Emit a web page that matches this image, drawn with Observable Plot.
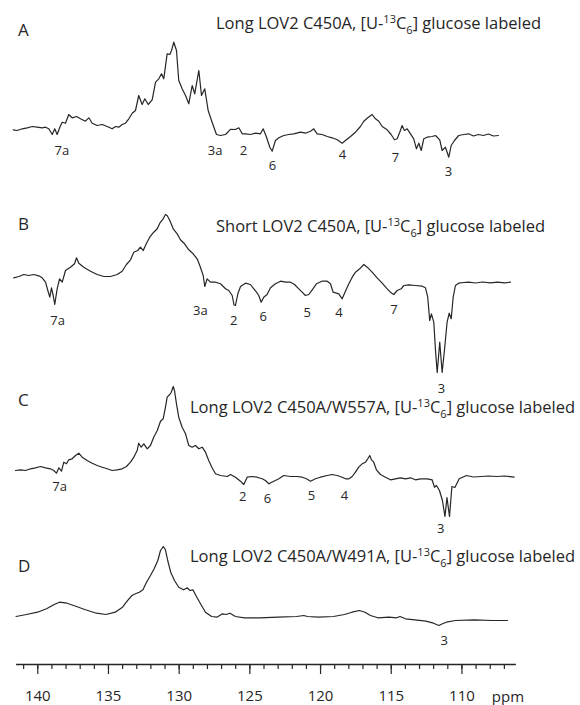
<!DOCTYPE html>
<html>
<head>
<meta charset="utf-8">
<script src="https://cdn.jsdelivr.net/npm/d3@7"></script>
<script src="https://cdn.jsdelivr.net/npm/@observablehq/plot@0.6"></script>
<style>
  html, body { margin: 0; padding: 0; background: #fff; }
  #chart { width: 580px; height: 705px; }
</style>
</head>
<body>
<div id="chart"></div>
<script>
// 13C NMR spectra of tryptophan-labelled LOV2 constructs, [ppm, intensity (a.u.)]
const spectrumA = [[141.74,0.7],[141.46,0],[141.10,1.7],[140.75,2.7],[140.39,4],[140.04,3.3],[139.69,2.7],[139.45,3.3],[139.22,1.7],[138.98,-4],[138.80,1.7],[138.63,-4],[138.44,3.3],[138.27,8.3],[138.04,7.3],[137.81,16],[137.57,12.7],[137.26,14],[136.98,11.7],[136.63,9.3],[136.39,12.7],[136.15,7.3],[135.80,5],[135.44,6],[135.09,4],[134.74,1.7],[134.50,4],[134.27,3.3],[134.03,6],[133.80,7.3],[133.56,11.7],[133.32,17.3],[133.09,20],[132.86,35],[132.62,26],[132.43,31.7],[132.19,26],[131.91,30.7],[131.67,48.3],[131.44,51.7],[131.25,56.7],[131.09,51.7],[130.85,76.7],[130.66,76],[130.54,80],[130.38,88.3],[130.19,80],[130.03,50],[129.79,41.7],[129.55,35],[129.32,26.7],[129.08,45],[128.90,36.7],[128.61,60],[128.42,35],[128.19,41.7],[127.95,20],[127.67,8.3],[127.36,-4],[127.08,-5],[126.72,-4],[126.37,1.2],[126.02,1],[125.78,2.7],[125.54,-3.3],[125.31,-3.3],[124.96,-4],[124.60,-2.7],[124.25,-3.3],[124.06,1.7],[123.82,-6.7],[123.59,-16.7],[123.42,-20.7],[123.19,-10],[122.95,-7.3],[122.60,-5],[122.25,-4],[121.89,-3.3],[121.42,-1.7],[121.07,-2.7],[120.71,-0.7],[120.48,1.7],[120.24,-3.3],[119.89,-4],[119.53,-6],[119.18,-7.3],[118.82,-9.3],[118.47,-12.7],[118.24,-10],[117.88,-6],[117.53,-1.7],[117.18,4],[116.94,9.3],[116.66,12.7],[116.35,16],[116.12,11.7],[115.88,9.3],[115.64,4],[115.29,0.7],[115.01,-4],[114.77,-9.3],[114.58,-8.3],[114.40,-1.7],[114.23,5],[114.07,0],[113.87,1.7],[113.64,-3.3],[113.41,-8.3],[113.22,-18.3],[113.05,-12.7],[112.88,-20],[112.70,-8.3],[112.46,-6.7],[112.11,-6],[111.87,-5],[111.57,-9.3],[111.40,-20],[111.17,-16.7],[110.93,-26.7],[110.76,-15],[110.53,-10],[110.23,-5],[109.87,-4],[109.52,-3.3],[109.19,-5.5],[108.83,-4],[108.48,-5],[108.13,-3.5],[107.77,-5.5],[107.42,-5]];

const spectrumB = [[141.70,2.7],[141.34,4],[140.99,6],[140.64,5],[140.28,6],[139.93,4.7],[139.69,2.7],[139.45,-1.7],[139.29,-10],[139.15,-16.7],[139.03,-7.3],[138.91,-15],[138.80,-24],[138.63,-8.3],[138.46,1.7],[138.27,-1.7],[138.04,10],[137.69,13.3],[137.40,16.7],[137.26,22.7],[137.10,17.3],[136.75,13.3],[136.27,9.3],[135.80,6],[135.33,4],[134.86,4],[134.38,6],[134.03,9.3],[133.73,16],[133.44,20.7],[133.21,28.3],[132.93,30],[132.74,33.3],[132.54,30],[132.31,37.3],[132.08,43.3],[131.80,48.3],[131.55,51.7],[131.37,57.3],[131.13,61.7],[130.97,66],[130.85,65],[130.66,60],[130.42,51.7],[130.14,46.7],[129.91,40.7],[129.62,36.7],[129.32,30.7],[129.01,26.7],[128.73,21.7],[128.54,15],[128.42,10],[128.30,5],[128.19,-6],[128.02,1.7],[127.79,-1.7],[127.43,-1.7],[127.08,-3.3],[126.72,-8.3],[126.49,-10],[126.25,-15],[126.12,-24.5],[126.02,-25],[125.85,-13.3],[125.66,-6],[125.31,-2.7],[124.96,-4],[124.72,-8.3],[124.53,-11.7],[124.37,-15],[124.20,-21.7],[124.02,-16.7],[123.78,-14],[123.54,-7.3],[123.19,-3.3],[122.83,-0.7],[122.48,-1.7],[122.13,-1.7],[121.84,-4],[121.54,-8.3],[121.30,-11.7],[121.07,-15],[120.83,-14],[120.59,-9.3],[120.29,-3.3],[119.89,-0.7],[119.53,-0.7],[119.30,-3.3],[119.11,-11.7],[118.87,-12.7],[118.71,-13.3],[118.47,-18.3],[118.24,-10.7],[118.00,-3.3],[117.76,3.3],[117.53,8.3],[117.23,11.7],[116.94,16],[116.70,13.3],[116.35,8.3],[116.00,2.7],[115.64,-2.7],[115.29,-8.3],[115.06,-11.7],[114.82,-14],[114.58,-10],[114.30,-8.3],[114.11,-5],[113.76,-4.3],[113.29,-5],[112.81,-5.7],[112.58,-7.3],[112.42,-16.7],[112.28,-40],[112.16,-33.3],[111.99,-41.7],[111.87,-70],[111.75,-92],[111.57,-61.7],[111.40,-92],[111.24,-70],[111.05,-41.7],[110.90,-32.7],[110.76,-38.3],[110.62,-16.7],[110.46,-5],[110.23,-2.7],[109.87,-2],[109.52,-1.7],[109.04,-2.5],[108.55,-1.5],[107.98,-2.3],[107.49,-1.7],[106.99,-2.3],[106.57,-1.7]];

const spectrumC = [[141.58,5],[141.22,5.7],[140.87,5],[140.51,6.7],[140.16,7.7],[139.81,9],[139.45,7.7],[139.10,6.7],[138.87,5],[138.68,2.3],[138.51,7.7],[138.32,4.3],[138.16,13.3],[137.97,11.7],[137.81,15.7],[137.57,16.7],[137.33,20],[137.10,22.3],[136.86,18.3],[136.51,15],[136.15,12.3],[135.80,10],[135.44,8.3],[135.09,6.7],[134.74,5],[134.38,5.7],[134.03,6.7],[133.73,9],[133.44,13.3],[133.21,18.3],[132.97,25],[132.86,32.3],[132.69,28.3],[132.50,31.7],[132.26,26.7],[132.03,30],[131.80,38.3],[131.55,45],[131.32,54.3],[131.13,56.7],[130.97,68.3],[130.85,78.3],[130.66,81],[130.56,83.3],[130.42,89],[130.33,85],[130.19,71.7],[130.03,58.3],[129.79,48.3],[129.55,41.7],[129.32,30],[129.08,28.3],[128.85,30],[128.61,26.7],[128.37,28.3],[128.14,23.3],[127.91,15],[127.67,7.7],[127.43,1.7],[127.08,0],[126.60,-1],[126.37,1],[126.02,-1.7],[125.66,-5.7],[125.43,-9],[125.19,-1.7],[124.84,-1],[124.48,-1.7],[124.13,-3.3],[123.90,-5],[123.66,-8.3],[123.31,-5.7],[122.95,-3.3],[122.60,0],[122.13,-1],[121.65,-1],[121.30,-1.7],[121.00,-3.3],[120.71,-5.7],[120.36,-3.3],[120.01,-1.7],[119.53,0],[119.18,1],[118.82,0],[118.47,-1.7],[118.24,-3.3],[118.00,-3.3],[117.76,-1],[117.53,3.3],[117.30,8.3],[117.06,11.7],[116.82,13.3],[116.66,16.7],[116.52,20],[116.40,15.7],[116.24,13.3],[116.05,5.7],[115.76,1],[115.41,-1.7],[115.06,-4.3],[114.70,-3.3],[114.35,-2.3],[113.99,-3.3],[113.64,-2.3],[113.29,-4.3],[112.93,-3.3],[112.46,-3.3],[112.11,-4.3],[111.94,-11.7],[111.80,-10],[111.59,-15],[111.38,-25],[111.20,-41],[111.06,-22],[110.88,-41],[110.71,-11],[110.50,-12],[110.19,-3.3],[109.68,0],[109.19,-1.5],[108.62,-1],[108.13,-0.5],[107.56,-1],[106.99,-0.5],[106.31,-1.7]];

const spectrumD = [[141.54,2],[140.80,4],[140.02,6.3],[139.38,9.7],[138.84,14],[138.46,16.3],[137.93,15.3],[137.26,12],[136.63,8.7],[135.85,5.3],[135.18,4],[134.52,6.3],[134.01,11.3],[133.61,18.7],[133.34,23],[133.09,24.7],[132.82,26.3],[132.56,28.7],[132.31,36.3],[132.03,43],[131.77,49.7],[131.51,58],[131.32,68],[131.12,72],[130.97,68.7],[130.81,58],[130.60,46.3],[130.33,38],[130.03,31.3],[129.69,28.7],[129.42,30.7],[129.24,28],[129.03,28.7],[128.78,22],[128.51,15.3],[128.14,6.3],[127.71,2],[127.33,1.3],[126.94,4.7],[126.68,4],[126.41,5.3],[126.02,2],[125.38,0.7],[124.32,0.7],[123.01,1.3],[121.70,2],[121.18,3],[120.93,2],[120.15,1.3],[119.09,2],[118.31,4],[117.78,6.3],[117.25,8],[116.86,6.3],[116.47,3],[115.95,0.7],[115.16,1.3],[114.63,0.7],[114.38,2],[113.99,-0.3],[113.33,-1.3],[112.55,-2.7],[112.01,-4.7],[111.63,-7],[111.38,-5.3],[111.10,-3.7],[110.46,-2],[109.14,-1.3],[107.84,-2],[106.78,-2]];

// Resonance assignments (indole carbons): [label, ppm]
const labelsA = [["7a",138.3],["3a",127.46],["2",125.45],["6",123.4],["4",118.45],["7",114.7],["3",110.95]];
const labelsB = [["7a",138.6],["3a",128.5],["2",126.15],["6",124.05],["5",120.95],["4",118.7],["7",114.8],["3",111.45]];
const labelsC = [["7a",138.45],["2",125.5],["6",123.75],["5",120.65],["4",118.3],["3",111.5]];
const labelsD = [["3",111.25]];

const sampleNames = ["Long LOV2 C450A", "Short LOV2 C450A", "Long LOV2 C450A/W557A", "Long LOV2 C450A/W491A"];
const panelLetters = ["A", "B", "C", "D"];

const majorTicks = [140, 135, 130, 125, 120, 115, 110];
const minorTicks = d3.range(107, 142);

// ---- layout ----
const ink = "#262626";
const axisLevel = 664;                   // pixel row of the ppm axis
const offsets = [534, 384, 189, 46];     // vertical stacking of each trace above the axis
const labelDrops = [
  [-20, -20, -20, -35, -24, -27, -41],
  [-40, -30, -40, -36.7, -32, -32, -29.7, -108],
  [-11.7, -21.7, -23.3, -20, -20, -53],
  [-22]
];
const titlePos = [[216, 29], [216, 232], [190, 413], [190, 562]];
const letterPos = [[18, 36], [18, 230], [18, 406], [18, 572]];

const spectra = [spectrumA, spectrumB, spectrumC, spectrumD];
const labelSets = [labelsA, labelsB, labelsC, labelsD];

const marks = [];
spectra.forEach((s, k) => {
  marks.push(Plot.line(s, {x: d => d[0], y: d => d[1] + offsets[k], stroke: ink, strokeWidth: 1.2}));
  marks.push(Plot.text(labelSets[k], {
    x: d => d[1], y: (d, i) => offsets[k] + labelDrops[k][i], text: d => d[0],
    fontSize: 13, fill: ink
  }));
});

marks.push(
  Plot.axisX({ticks: minorTicks, tickSize: 5, tickFormat: () => "", strokeWidth: 1.2}),
  Plot.axisX({ticks: majorTicks, tickSize: 10, tickPadding: 16, fontSize: 15, strokeWidth: 1.2, tickFormat: d => String(d)}),
  Plot.ruleY([0], {x1: 141.5, x2: 106.15, stroke: ink, strokeWidth: 1.4}),
  Plot.text(["ppm"], {x: 106.75, y: -33, text: d => d, fontSize: 15, fill: ink})
);

const svg = Plot.plot({
  width: 580,
  height: 705,
  marginLeft: 9,
  marginRight: 62,
  marginTop: 0,
  marginBottom: 705 - axisLevel,
  style: {fontFamily: "'Open Sans', sans-serif", fontSize: "15px", color: ink, background: "#fff", overflow: "visible"},
  x: {domain: [142, 106]},
  y: {domain: [0, axisLevel], range: [axisLevel, 0], axis: null},
  marks
});

// Panel letters and sample titles with isotope notation
const g = d3.select(svg).append("g")
  .attr("fill", ink)
  .attr("text-anchor", "start")
  .attr("font-family", "'Open Sans', sans-serif");
panelLetters.forEach((L, k) => {
  g.append("text").attr("x", letterPos[k][0]).attr("y", letterPos[k][1]).attr("font-size", 17).text(L);
});
sampleNames.forEach((name, k) => {
  const t = g.append("text").attr("x", titlePos[k][0]).attr("y", titlePos[k][1]).attr("font-size", 16.5);
  t.append("tspan").text(name + ", [U-");
  t.append("tspan").attr("font-size", 11).attr("dy", -6).text("13");
  t.append("tspan").attr("dy", 6).text("C");
  t.append("tspan").attr("font-size", 11).attr("dy", 4.5).text("6");
  t.append("tspan").attr("dy", -4.5).text("] glucose labeled");
});

document.getElementById("chart").appendChild(svg);
</script>
</body>
</html>
